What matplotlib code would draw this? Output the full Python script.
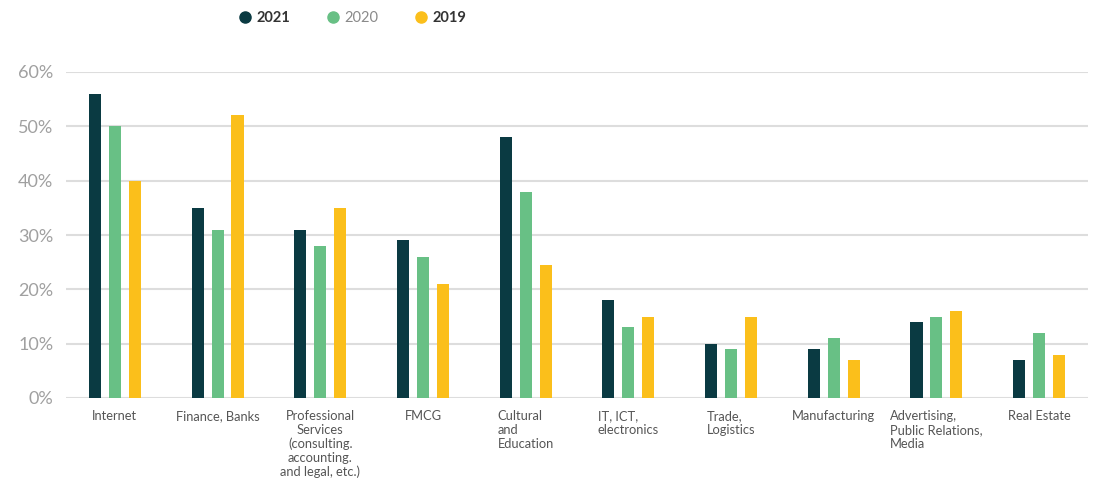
import matplotlib
matplotlib.use("Agg")
import matplotlib.pyplot as plt
import numpy as np
from matplotlib.ticker import PercentFormatter
from matplotlib.lines import Line2D

categories = ["Internet", "Finance, Banks",
              "Professional\nServices\n(consulting.\naccounting.\nand legal, etc.)",
              "FMCG", "Cultural\nand\nEducation", "IT, ICT,\nelectronics",
              "Trade,\nLogistics", "Manufacturing",
              "Advertising,\nPublic Relations,\nMedia", "Real Estate"]
years = ["2021", "2020", "2019"]
v2021 = [56, 35, 31, 29, 48, 18, 10, 9, 14, 7]
v2020 = [50, 31, 28, 26, 38, 13, 9, 11, 15, 12]
v2019 = [40, 52, 35, 21, 24.5, 15, 15, 7, 16, 8]
yticks = [0, 10, 20, 30, 40, 50, 60]

colors = ["#0a3a42", "#68c085", "#fbbf1b"]

plt.rcParams['font.family'] = ['Lato', 'DejaVu Sans']

fig = plt.figure(figsize=(11.02, 4.88), dpi=100)
ax = fig.add_axes([66/1102, 1-398/488, (1088-66)/1102, (398-72)/488])

x = np.arange(len(categories))
w = 0.117
off = 0.194
for i, (vals, c) in enumerate(zip([v2021, v2020, v2019], colors)):
    ax.bar(x + (i-1)*off, np.array(vals)/100, width=w, color=c, zorder=3)

ax.set_xlim(-0.476, 9.476)
ax.set_ylim(0, 0.6)
ax.set_yticks(np.array(yticks)/100)
ax.yaxis.set_major_formatter(PercentFormatter(1.0, decimals=0))
ax.grid(axis='y', color='#dddddd', linewidth=1.5, zorder=0)
ax.set_axisbelow(True)
for s in ax.spines.values():
    s.set_visible(False)
ax.tick_params(axis='y', length=0, pad=9, labelsize=13, labelcolor='#a0a0a0')
ax.tick_params(axis='x', length=0, pad=9, labelsize=9.3, labelcolor='#555555')
ax.set_xticks(x)
ax.set_xticklabels(categories, va='top')
for lab in ax.get_xticklabels():
    if lab.get_text().startswith("Professional"):
        lab.set_multialignment('center')
    else:
        lab.set_multialignment('left')
    lab.set_linespacing(1.15)

handles = [Line2D([0], [0], marker='o', linestyle='none', markersize=8,
                  markerfacecolor=c, markeredgecolor=c) for c in colors]
leg = fig.legend(handles, years, loc='center', bbox_to_anchor=(352/1102, 1-18/488),
                 ncol=3, frameon=False, fontsize=10.5, handletextpad=0.3,
                 columnspacing=2.4, handlelength=1.0)
texts = leg.get_texts()
texts[0].set_fontweight('bold'); texts[0].set_color('#333333')
texts[1].set_color('#8a8a8a')
texts[2].set_fontweight('bold'); texts[2].set_color('#333333')

fig.savefig("out.png", dpi=100)
